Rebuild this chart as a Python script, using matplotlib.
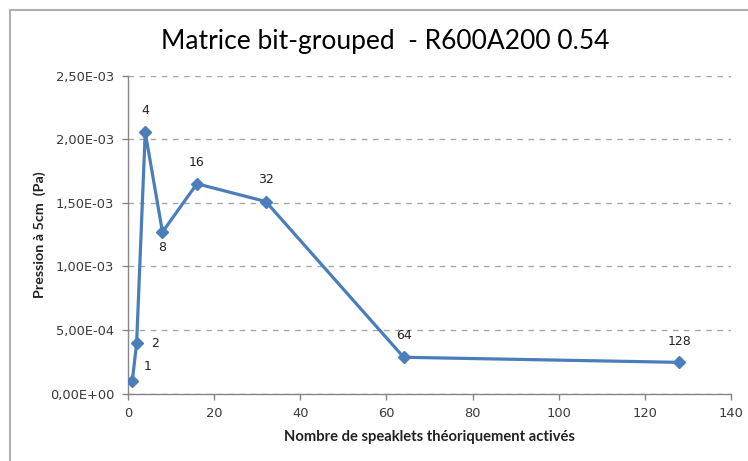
import matplotlib
matplotlib.use("Agg")
import matplotlib.pyplot as plt
from matplotlib.patches import Rectangle
from matplotlib.ticker import FuncFormatter, MultipleLocator

# Nombre de speaklets activés et pression mesurée à 5 cm
speaklets = [1, 2, 4, 8, 16, 32, 64, 128]
pression = [1.0e-4, 3.95e-4, 2.055e-3, 1.27e-3, 1.65e-3, 1.51e-3, 2.85e-4, 2.45e-4]
point_labels = ["1", "2", "4", "8", "16", "32", "64", "128"]
# Décalages (en points) des étiquettes de données
label_offsets = [(11, 10), (13, 0), (0, 16), (0, -11), (0, 15), (0, 16), (0, 16), (0, 15)]

title = "Matrice bit-grouped  - R600A200 0.54"
xlabel = "Nombre de speaklets théoriquement activés"
ylabel = "Pression à 5cm  (Pa)"

blue = "#4A7EBB"
axis_gray = "#868686"
grid_gray = "#A6A6A6"
humanist = ["Lato", "DejaVu Sans"]

fig = plt.figure(figsize=(7.48, 4.61), dpi=100)
fig.patch.set_facecolor("white")

# Cadre du graphique
fig.patches.append(Rectangle((10 / 748, -0.1), 1.2, 1 - 10 / 461 + 0.1,
                             transform=fig.transFigure, fill=False,
                             edgecolor="#B0B0B0", linewidth=1.5))

ax = fig.add_axes([128 / 748, 1 - 393.5 / 461, (731 - 128) / 748, (393.5 - 75.7) / 461])

ax.plot(speaklets, pression, color=blue, linewidth=2.3, marker="D",
        markersize=6, markerfacecolor=blue, markeredgecolor=blue, zorder=3)

for x, y, lab, off in zip(speaklets, pression, point_labels, label_offsets):
    ax.annotate(lab, (x, y), xytext=off, textcoords="offset points",
                ha="center", va="center", fontsize=9, color="#222222",
                family="DejaVu Sans")

ax.set_xlim(0, 140)
ax.set_ylim(0, 2.5e-3)
ax.xaxis.set_major_locator(MultipleLocator(20))
ax.yaxis.set_major_locator(MultipleLocator(5e-4))


def sci_fr(v, pos):
    s = f"{v:.2E}"
    return s.replace(".", ",")


ax.yaxis.set_major_formatter(FuncFormatter(sci_fr))

ax.grid(axis="y", color=grid_gray, linestyle=(0, (4, 4)), linewidth=1.0)
ax.set_axisbelow(True)
for side in ("top", "right"):
    ax.spines[side].set_visible(False)
for side in ("left", "bottom"):
    ax.spines[side].set_color(axis_gray)
    ax.spines[side].set_linewidth(1.0)

ax.tick_params(axis="both", direction="out", length=4, width=1.0,
               color=axis_gray, labelsize=9.4, labelcolor="#3A3A3A", pad=6)
for t in ax.get_xticklabels() + ax.get_yticklabels():
    t.set_family("DejaVu Sans")

ax.set_xlabel(xlabel, fontsize=10.6, fontweight="bold", family=humanist,
              color="#222222", labelpad=7)
ax.set_ylabel(ylabel, fontsize=10.3, fontweight="bold", family=humanist,
              color="#222222", labelpad=3)

fig.text(385 / 748, 1 - 42 / 461, title, ha="center", va="center",
         fontsize=19, family=humanist, color="black")

fig.savefig("out.png", dpi=100)
